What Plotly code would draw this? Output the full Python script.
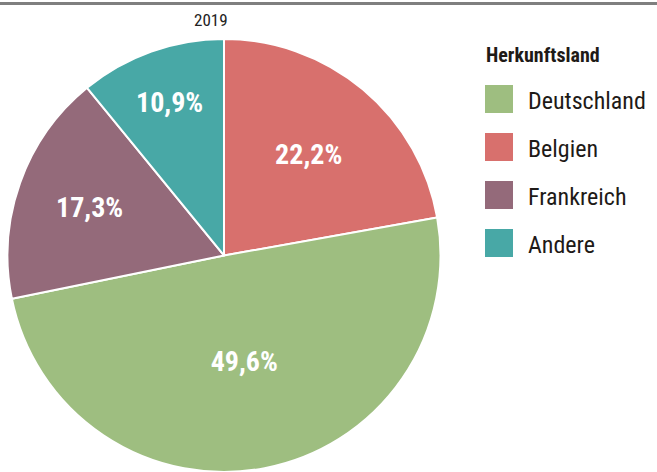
import plotly.graph_objects as go

year_label = "2019"
legend_title = "Herkunftsland"
countries = ["Deutschland", "Belgien", "Frankreich", "Andere"]
shares = [49.6, 22.2, 17.3, 10.9]
colors = ["#9ebe80", "#d8706d", "#946a7a", "#48a8a6"]

# Pie drawn clockwise starting with Belgien at 12 o'clock
pie_order = [1, 0, 2, 3]
labels = [countries[i] for i in pie_order]
values = [shares[i] for i in pie_order]
pie_colors = [colors[i] for i in pie_order]

FONT = "Roboto Condensed, Liberation Sans Narrow, Roboto, sans-serif"
W, H = 657, 472

fig = go.Figure(go.Pie(
    labels=labels, values=values, sort=False, direction="clockwise", rotation=0,
    marker=dict(colors=pie_colors, line=dict(color="white", width=2)),
    texttemplate="%{value:.1f}%", textposition="inside",
    insidetextorientation="horizontal",
    textfont=dict(family=FONT, size=28, color="white", weight="bold"),
    domain=dict(x=[6 / W, 442 / W], y=[0, 1 - 39 / H]),
    showlegend=False, hoverinfo="label+percent",
))

shapes = [dict(type="line", xref="paper", yref="paper", x0=0, x1=1,
               y0=1 - 3.5 / H, y1=1 - 3.5 / H, line=dict(color="#7f7f7f", width=3))]
annotations = [
    dict(text=year_label, x=211 / W, y=1 - 20 / H, xref="paper", yref="paper",
         showarrow=False, font=dict(family=FONT, size=17, color="#222"),
         xanchor="center", yanchor="middle"),
    dict(text="<b>" + legend_title + "</b>", x=484 / W, y=1 - 55 / H, xref="paper",
         yref="paper", showarrow=False, font=dict(family=FONT, size=20, color="#1e1a17"),
         xanchor="left", yanchor="middle"),
]
for i, (name, col) in enumerate(zip(countries, colors)):
    yc = 99 + 48 * i
    shapes.append(dict(type="rect", xref="paper", yref="paper",
                       x0=485 / W, x1=513 / W, y0=1 - (yc + 14) / H, y1=1 - (yc - 14) / H,
                       fillcolor=col, line=dict(width=0)))
    annotations.append(dict(text=name, x=526 / W, y=1 - (yc + 2) / H, xref="paper",
                            yref="paper", showarrow=False,
                            font=dict(family=FONT, size=24, color="#1e1a17"),
                            xanchor="left", yanchor="middle"))

fig.update_layout(
    width=W, height=H, margin=dict(l=0, r=0, t=0, b=0),
    paper_bgcolor="white", plot_bgcolor="white",
    separators=",.", shapes=shapes, annotations=annotations,
)
fig.write_html("out.html", config={"displayModeBar": False},
               post_script="document.body.style.margin='0';")
